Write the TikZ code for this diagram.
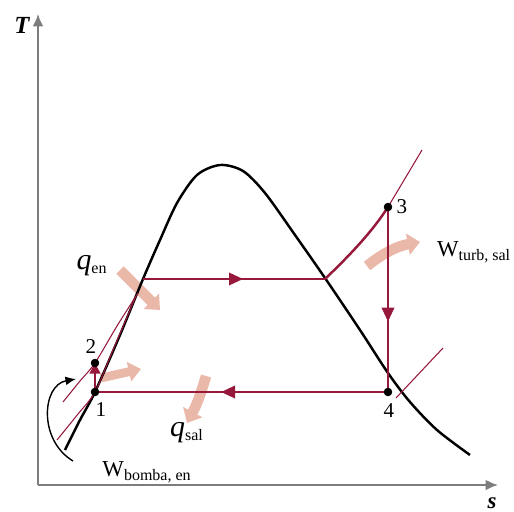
\documentclass[tikz,border=0pt]{standalone}
\usepackage{fontspec}
\setmainfont{Liberation Serif}
\usetikzlibrary{positioning,arrows.meta,decorations.markings}
\definecolor{cyclered}{RGB}{150,25,60}
\definecolor{heat}{RGB}{234,184,168}
\definecolor{axisgray}{RGB}{125,125,125}
\tikzset{
  dome/.style={black,line width=1.4pt},
  cyclepath/.style={cyclered,line width=1.4pt},
  isobar/.style={cyclered,line width=0.6pt},
  flow/.style={postaction={decorate},decoration={markings,mark=at position #1 with {\arrow{Triangle[length=8pt,width=7pt]}}}},
  heatarrow/.style={heat,line width=6pt,-{Triangle[length=7pt,width=12pt]}},
  statelbl/.style={font=\fontsize{12}{13}\selectfont,inner sep=0pt},
  lbl/.style={font=\fontsize{13}{14}\selectfont,inner sep=0pt}
}

\begin{document}
\begin{tikzpicture}[x=0.02cm,y=-0.02cm]
	\useasboundingbox (0,0) rectangle (514,511);
	% states
	\coordinate (p1) at (95,392);
	\coordinate (p2) at (95,363);
	\coordinate (p3) at (388,207);
	\coordinate (p4) at (388,392);
	\coordinate (sl) at (143,279);
	\coordinate (sv) at (325,279);
	% axes
	\coordinate (o) at (38,485);
	\coordinate (tend) at (38,14);
	\coordinate (send) at (498,485);
	\draw [axisgray,line width=1.1pt,-{Latex[length=7pt,width=6pt]}] (o)--(tend);
	\draw [axisgray,line width=1.1pt,-{Latex[length=7pt,width=6pt]}] (o)--(send);
	\node [lbl,font=\fontsize{14}{15}\selectfont\bfseries\itshape] (tlab) at (22,25) {T};
	\node [lbl,font=\fontsize{13}{14}\selectfont\bfseries\itshape] (slab) at (492,503) {s};
	% heat and work arrows
	\coordinate (qin1) at (120,270);
	\coordinate (qin2) at (160,310);
	\coordinate (qout1) at (206,376);
	\coordinate (qout2) at (187,423);
	\coordinate (wt1) at (367,266);
	\coordinate (wt2) at (420,242);
	\coordinate (wp1) at (101,378);
	\coordinate (wp2) at (141,369);
	\draw [heatarrow] (qin1)--(qin2);
	\draw [heatarrow] (qout1) to[bend left=6] (qout2);
	\draw [heatarrow] (wt1) to[bend left=14] (wt2);
	\draw [heatarrow,line width=5pt,-{Triangle[length=7pt,width=11pt]}] (wp1)--(wp2);
	% saturation dome
	\draw [dome] plot[smooth] coordinates {(65,450) (80,420) (95,392) (120,335) (143,279) (160,240) (177,203) (197,175) (220,165) (243,171) (265,193) (295,235) (325,278) (360,330) (388,373) (410,402) (437,430) (470,455)};
	% isobars
	\draw [isobar] plot[smooth] coordinates {(63,402) (80,381) (p2) (117,326) (138,293)};
	\draw [isobar] plot[smooth] coordinates {(57,440) (78,414) (p1) (113,350) (136,296)};
	\coordinate (hi) at (422,150);
	\coordinate (lo1) at (396,398);
	\coordinate (lo2) at (443,348);
	\draw [isobar] (p3)--(hi);
	\draw [isobar] (lo1)--(lo2);
	% cycle
	\draw [cyclepath,-{Triangle[length=6pt,width=6pt]}] (p1)--(p2);
	\draw [cyclepath,flow=0.55] (sl)--(sv);
	\draw [cyclepath] (sv) .. controls (350,255) and (372,232) .. (p3);
	\draw [cyclepath,flow=0.62] (p3)--(p4);
	\draw [cyclepath,flow=0.57] (p4)--(p1);
	% pump work
	\coordinate (wb1) at (73,461);
	\coordinate (wb2) at (76,379);
	\draw [black,line width=0.8pt,-{Latex[length=6pt,width=5pt]}] (wb1) .. controls (38,440) and (42,385) .. (wb2);
	\filldraw [black] (p1) circle (2.2pt);
	\filldraw [black] (p2) circle (2.2pt);
	\filldraw [black] (p3) circle (2.2pt);
	\filldraw [black] (p4) circle (2.2pt);
	\node [statelbl] (n1) at (101,410) {1};
	\node [statelbl] (n2) at (91,347) {2};
	\node [statelbl] (n3) at (402,207) {3};
	\node [statelbl] (n4) at (389,411) {4};
	% labels
	\node [lbl] (qen) at (92,266) {\fontsize{17}{17}\selectfont\textit{q}\fontsize{13}{14}\selectfont\textsubscript{en}};
	\node [lbl] (qsal) at (187,433) {\fontsize{17}{17}\selectfont\textit{q}\fontsize{13}{14}\selectfont\textsubscript{sal}};
	\node [lbl] (wturb) at (474,252) {W\textsubscript{turb, sal}};
	\node [lbl] (wbomba) at (147,472) {W\textsubscript{bomba, en}};
\end{tikzpicture}
\end{document}
